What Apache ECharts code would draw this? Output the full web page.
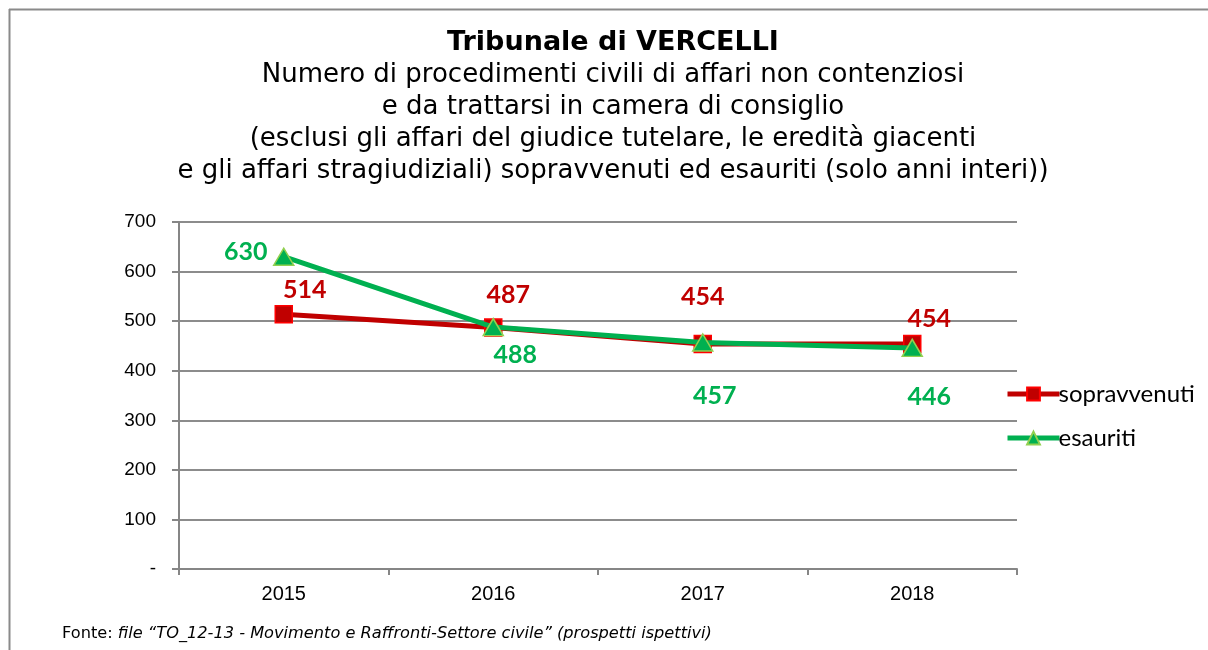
<!DOCTYPE html>
<html>
<head>
<meta charset="utf-8">
<script src="https://cdn.jsdelivr.net/npm/echarts@6/dist/echarts.min.js"></script>
<style>html,body{margin:0;padding:0;background:#fff}#c{width:1208px;height:650px}</style>
</head>
<body>
<div id="c"></div>
<script>
const years = ['2015', '2016', '2017', '2018'];
const sopravvenuti = [514, 487, 454, 454];
const esauriti = [630, 488, 457, 446];
const yTicks = [0, 100, 200, 300, 400, 500, 600, 700];

const titleMain = 'Tribunale di VERCELLI';
const titleSub = [
  'Numero di procedimenti civili di affari non contenziosi',
  'e da trattarsi in camera di consiglio',
  '(esclusi gli affari del giudice tutelare, le eredità giacenti',
  'e gli affari stragiudiziali) sopravvenuti ed esauriti (solo anni interi))'
];

const redOff = [[21, -24], [15, -33], [0, -47], [17, -25]];
const greenOff = [[-38, -5], [22, 28], [12, 53], [17, 49]];

const chart = echarts.init(document.getElementById('c'), null, {renderer: 'canvas'});

function mk(vals, offs, color) {
  return vals.map((v, i) => ({
    value: v,
    label: {show: true, position: 'inside', offset: offs[i], color: color,
      fontFamily: 'Lato', fontWeight: 'bold', fontSize: 25}
  }));
}

chart.setOption({
  animation: false,
  backgroundColor: '#fff',
  grid: {left: 179, right: 191, top: 222, bottom: 81},
  legend: {
    orient: 'vertical', left: 1000, top: 377, itemGap: 20,
    itemWidth: 52, itemHeight: 16,
    lineStyle: {width: 5},
    textStyle: {fontFamily: 'Lato', fontSize: 24, color: '#000', padding: [0, 0, 0, -6]},
    data: ['sopravvenuti', 'esauriti']
  },
  xAxis: {
    type: 'category', data: years, boundaryGap: true,
    axisLine: {lineStyle: {color: '#868686', width: 2}},
    axisTick: {show: true, length: 6, interval: 0, lineStyle: {color: '#868686', width: 2}},
    axisLabel: {fontFamily: 'Liberation Sans', fontSize: 20, color: '#000', margin: 15}
  },
  yAxis: {
    type: 'value', min: 0, max: 700, interval: 100,
    axisLine: {show: true, lineStyle: {color: '#868686', width: 2}},
    axisTick: {show: true, length: 7, lineStyle: {color: '#868686', width: 2}},
    splitLine: {show: true, lineStyle: {color: '#8c8c8c', width: 2}},
    axisLabel: {fontFamily: 'Liberation Sans', fontSize: 19, color: '#000', margin: 23,
      formatter: v => (yTicks.includes(v) && v === 0) ? '-' : String(v)}
  },
  series: [
    {
      name: 'sopravvenuti', type: 'line', data: mk(sopravvenuti, redOff, '#C00000'),
      symbol: 'rect', symbolSize: 17, z: 2,
      lineStyle: {color: '#C00000', width: 5},
      itemStyle: {color: '#C00000', borderColor: '#FF0000', borderWidth: 1.5}
    },
    {
      name: 'esauriti', type: 'line', data: mk(esauriti, greenOff, '#00B050'),
      symbol: 'triangle', symbolSize: [20, 17], z: 3,
      lineStyle: {color: '#00B050', width: 5},
      itemStyle: {color: '#00B050', borderColor: '#92D050', borderWidth: 1.5}
    }
  ],
  graphic: [
    {type: 'line', shape: {x1: 9, y1: 9.5, x2: 1208, y2: 9.5}, style: {stroke: '#8a8a8a', lineWidth: 2}},
    {type: 'line', shape: {x1: 9.5, y1: 9, x2: 9.5, y2: 650}, style: {stroke: '#8a8a8a', lineWidth: 2}},
    {type: 'text', x: 613, y: 27,
      style: {
        text: '{b|' + titleMain + '}\n' + titleSub.map(s => '{n|' + s + '}').join('\n'),
        align: 'center', verticalAlign: 'top',
        rich: {
          b: {fontFamily: 'DejaVu Sans', fontWeight: 'bold', fontSize: 27, fill: '#000', lineHeight: 32, align: 'center'},
          n: {fontFamily: 'DejaVu Sans', fontWeight: 'normal', fontSize: 26, fill: '#000', lineHeight: 32, align: 'center'}
        }
      }},
    {type: 'text', left: 62, top: 626,
      style: {
        text: '{n|Fonte: }{i|file “TO_12-13 - Movimento e Raffronti-Settore civile” (prospetti ispettivi)}',
        rich: {
          n: {fontFamily: 'DejaVu Sans', fontSize: 16.2, fill: '#000'},
          i: {fontFamily: 'DejaVu Sans', fontStyle: 'italic', fontSize: 16.2, fill: '#000'}
        }
      }}
  ]
});
</script>
</body>
</html>
